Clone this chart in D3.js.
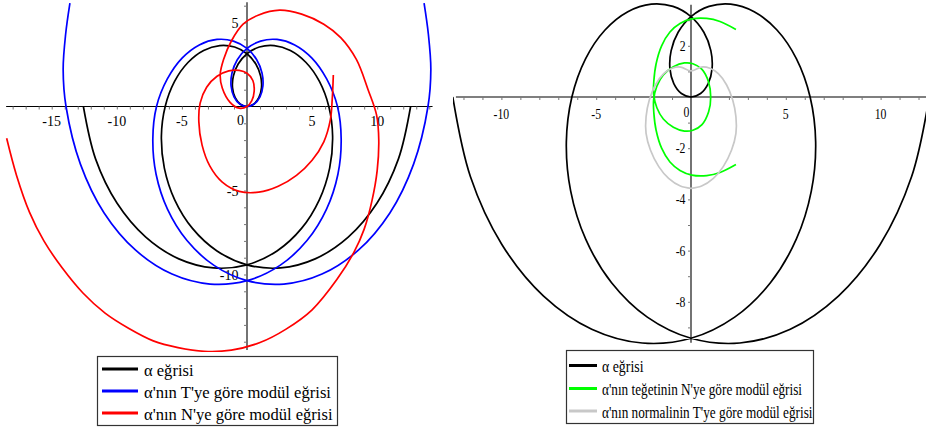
<!DOCTYPE html>
<html>
<head>
<meta charset="utf-8">
<script src="https://cdn.jsdelivr.net/npm/d3@7"></script>
<style>
	body { margin: 0; background: #fff; }
	svg { display: block; }
	svg text { font-family: "Liberation Serif", "DejaVu Serif", serif; }
</style>
</head>
<body>
<div id="wrapper"></div>
<script>

// alpha curve (same in both panels)
const alphaPts = [
	[-12.566,0],[-11.632,-3.117],[-9.976,-5.76],[-7.775,-7.775],[-5.236,-9.069],[-2.575,-9.609],
	[0,-9.425],[2.304,-8.598],[4.189,-7.255],[5.554,-5.554],[6.348,-3.665],[6.575,-1.762],
	[6.283,0],[5.563,1.491],[4.534,2.618],[3.332,3.332],[2.094,3.628],[0.949,3.54],
	[0,3.142],[-0.678,2.529],[-1.047,1.814],[-1.111,1.111],[-0.907,0.524],[-0.506,0.136],
	[0,0],
	[0.506,0.136],[0.907,0.524],[1.111,1.111],[1.047,1.814],[0.678,2.529],[0,3.142],
	[-0.949,3.54],[-2.094,3.628],[-3.332,3.332],[-4.534,2.618],[-5.563,1.491],[-6.283,0],
	[-6.575,-1.762],[-6.348,-3.665],[-5.554,-5.554],[-4.189,-7.255],[-2.304,-8.598],[0,-9.425],
	[2.575,-9.609],[5.236,-9.069],[7.775,-7.775],[9.976,-5.76],[11.632,-3.117],[12.566,0]
];

// module curve w.r.t. T (blue)
const bluePts = [
	[-13.6,6.15],[-13.93,4.3],[-14.12,2.2],[-13.9,0],[-12.795,-3.429],[-10.974,-6.336],[-8.553,-8.553],
	[-5.76,-9.976],[-2.833,-10.57],[0,-10.367],[2.534,-9.458],[4.608,-7.981],[6.109,-6.109],
	[6.983,-4.032],[7.233,-1.938],[6.95,0],[6.119,1.64],[4.987,2.88],[3.665,3.665],[2.303,3.991],
	[1.044,3.894],[0,3.456],[-0.746,2.782],[-1.152,1.995],[-1.222,1.222],[-0.998,0.576],[-0.557,0.15],
	[0,0],
	[0.557,0.15],[0.998,0.576],[1.222,1.222],[1.152,1.995],[0.746,2.782],[0,3.456],[-1.044,3.894],
	[-2.303,3.991],[-3.665,3.665],[-4.987,2.88],[-6.119,1.64],[-6.95,0],[-7.233,-1.938],[-6.983,-4.032],
	[-6.109,-6.109],[-4.608,-7.981],[-2.534,-9.458],[0,-10.367],[2.833,-10.57],[5.76,-9.976],
	[8.553,-8.553],[10.974,-6.336],[12.795,-3.429],[13.9,0],[14.12,2.2],[13.93,4.3],[13.6,6.15]
];

// module curve w.r.t. N (red)
const redPts = [
	[-18.46,-1.89],[-17.7,-4.1],[-16.7,-6.3],[-15.6,-8.0],[-14.2,-9.6],[-12.6,-11.1],[-10.9,-12.3],
	[-9.1,-13.2],[-7.2,-13.95],[-5.3,-14.35],[-3.3,-14.57],[-1.2,-14.5],[1.0,-14.05],[3.0,-13.25],
	[5.0,-12.1],[6.9,-10.3],[8.2,-8.7],[9.0,-7.3],[9.6,-5.6],[10.0,-3.8],[10.12,-2.0],[9.95,-0.5],
	[9.3,1.0],[8.4,2.8],[7.2,4.1],[5.9,4.9],[4.2,5.5],[2.5,5.74],[0.9,5.45],[-0.3,4.9],[-1.2,3.9],
	[-1.8,2.8],[-2.06,1.9],[-1.9,1.1],[-1.3,0.25],[-0.6,-0.1],[0,0],[0.37,0.35],[0.55,0.9],
	[0.45,1.55],[0,1.98],[-0.6,2.15],[-1.4,2.12],[-2.3,1.8],[-3.1,1.15],[-3.6,0.2],[-3.7,-0.9],
	[-3.45,-2.3],[-2.85,-3.55],[-1.9,-4.5],[-0.6,-5.05],[0.9,-5.1],[2.4,-4.75],[3.8,-4.1],
	[5.0,-3.2],[5.9,-2.1],[6.4,-0.8],[6.55,0.5],[6.63,1.88]
];

// tangent module curve w.r.t. N (green)
const greenPts = [
	[2.37,2.64],[1.53,2.95],[0.83,3.07],[0.04,3.05],[-0.58,2.87],[-1.11,2.54],[-1.55,2.0],
	[-1.84,1.3],[-1.96,0.62],[-1.97,0.1],[-1.8,-0.42],[-1.46,-0.86],[-0.93,-1.18],[-0.35,-1.33],
	[0.1,-1.3],[0.58,-1.08],[0.93,-0.58],[1.04,0],[0.93,0.58],[0.58,1.08],[0.1,1.3],[-0.35,1.33],
	[-0.93,1.18],[-1.46,0.86],[-1.8,0.42],[-1.97,-0.1],[-1.96,-0.62],[-1.84,-1.3],[-1.55,-2.0],
	[-1.11,-2.54],[-0.58,-2.87],[0.04,-3.05],[0.83,-3.07],[1.53,-2.95],[2.37,-2.64]
];

// normal module curve w.r.t. T (gray)
const grayPts = [
	[0,-3.57],[-0.56,-3.48],[-1.18,-3.18],[-1.7,-2.72],[-2.14,-2.07],[-2.37,-1.42],[-2.37,-0.77],
	[-2.2,-0.12],[-1.88,0.47],[-1.44,0.91],[-1.0,1.12],[-0.55,1.17],[0,1.02],[0.55,1.17],[1.0,1.12],
	[1.44,0.91],[1.88,0.47],[2.2,-0.12],[2.37,-0.77],[2.37,-1.42],[2.14,-2.07],[1.7,-2.72],
	[1.18,-3.18],[0.56,-3.48],[0,-3.57]
];

const xTicksLeft = [-15, -10, -5, 0, 5, 10];
const yTicksLeft = [5, -5, -10];
const xTicksRight = [-10, -5, 0, 5, 10];
const yTicksRight = [2, -2, -4, -6, -8];

const legendLeft = ["α eğrisi", "α'nın T'ye göre modül eğrisi", "α'nın N'ye göre modül eğrisi"];
const legendRight = ["α eğrisi", "α'nın teğetinin N'ye göre modül eğrisi", "α'nın normalinin T'ye göre modül eğrisi"];

function drawCharts() {

	const serif = "'Liberation Serif', 'DejaVu Serif', serif";

	const svg = d3.select("#wrapper")
		.append("svg")
		.attr("width", 926)
		.attr("height", 430)
		.attr("font-family", serif);

	const fmt = d => d < 0 ? "-" + Math.abs(d) : String(d);
	const range = (a, b) => d3.range(a, b + 1);

	const panels = [
		{
			id: "left",
			xScale: d3.scaleLinear().domain([-15, 10]).range([51.7, 377.2]),
			yScale: d3.scaleLinear().domain([-10, 5]).range([274.5, 22.5]),
			view: { x: [-18.5, 14.25], y: [-14.5, 6.2] },
			clip: [0, 0, 442, 352],
			curves: [[alphaPts, "#000"], [bluePts, "#0000ff"], [redPts, "#ff0000"]],
			xTicks: xTicksLeft, yTicks: yTicksLeft,
			minorX: range(-18, 14), minorY: range(-14, 6),
			squeeze: 1, xLabelY: 125.5, yLabelX: 238.5, zero: [240.5, 125],
			legend: { box: [97.5, 356.5, 240, 69], lines: [369, 391, 413], x1: 102, x2: 138, tx: 144,
				widths: [49.5, 187, 188.5], size: 16.5, texts: legendLeft,
				colors: ["#000", "#0000ff", "#ff0000"] }
		},
		{
			id: "right",
			xScale: d3.scaleLinear().domain([-10, 10]).range([501.4, 880.6]),
			yScale: d3.scaleLinear().domain([-8, 2]).range([301.8, 45.8]),
			view: { x: [-12.4, 12.4], y: [-9.6, 3.6] },
			clip: [453, 0, 473, 346],
			curves: [[alphaPts, "#000"], [greenPts, "#00ff00"], [grayPts, "#c8c8c8"]],
			xTicks: xTicksRight, yTicks: yTicksRight,
			minorX: range(-12, 12), minorY: range(-9, 3),
			squeeze: 0.84, xLabelY: 118.5, yLabelX: 685.5, zero: [686.5, 116.5],
			legend: { box: [566.5, 350.5, 247, 73], lines: [365.5, 388.5, 411], x1: 569, x2: 597, tx: 602,
				widths: [41.5, 200, 210.5], size: 16.5, texts: legendRight,
				colors: ["#000", "#00ff00", "#c8c8c8"] }
		}
	];

	panels.forEach(p => {
		const g = svg.append("g").attr("class", p.id);
		const x = p.xScale, y = p.yScale;

		g.append("clipPath").attr("id", "clip-" + p.id)
			.append("rect")
			.attr("x", p.clip[0]).attr("y", p.clip[1])
			.attr("width", p.clip[2]).attr("height", p.clip[3]);

		// axes lines
		g.append("line")
			.attr("x1", x(p.view.x[0])).attr("x2", x(p.view.x[1]))
			.attr("y1", y(0)).attr("y2", y(0))
			.attr("stroke", "#000").attr("stroke-width", 1.1);
		g.append("line")
			.attr("x1", x(0)).attr("x2", x(0))
			.attr("y1", y(p.view.y[0])).attr("y2", y(p.view.y[1]))
			.attr("stroke", "#000").attr("stroke-width", 1.1);

		// tick marks
		const xAxisGen = d3.axisBottom(x).tickValues(p.minorX.filter(v => v !== 0))
			.tickSize(3).tickFormat("");
		const yAxisGen = d3.axisLeft(y).tickValues(p.minorY.filter(v => v !== 0))
			.tickSize(3).tickFormat("");

		g.append("g").attr("transform", `translate(0,${y(0)})`).call(xAxisGen)
			.call(a => a.select(".domain").remove())
			.selectAll("line").attr("stroke", "#777");
		g.append("g").attr("transform", `translate(${x(0)},0)`).call(yAxisGen)
			.call(a => a.select(".domain").remove())
			.selectAll("line").attr("stroke", "#777");

		// tick labels
		const labels = g.append("g").attr("font-size", 14).attr("fill", "#000")
			.attr("font-family", serif);

		labels.selectAll(".xl")
			.data(p.xTicks.filter(v => v !== 0))
			.join("text")
			.attr("class", "xl")
			.attr("text-anchor", "middle")
			.attr("transform", d => `translate(${x(d)},${p.xLabelY}) scale(${p.squeeze},1)`)
			.text(fmt);

		labels.selectAll(".yl")
			.data(p.yTicks)
			.join("text")
			.attr("class", "yl")
			.attr("text-anchor", "end")
			.attr("transform", d => `translate(${p.yLabelX},${y(d) + 5}) scale(${p.squeeze},1)`)
			.text(fmt);

		labels.append("text")
			.attr("text-anchor", "middle")
			.attr("transform", `translate(${p.zero[0]},${p.zero[1]}) scale(${p.squeeze},1)`)
			.text("0");

		// curves
		const lineGen = d3.line()
			.x(d => x(d[0]))
			.y(d => y(d[1]))
			.curve(d3.curveCatmullRom.alpha(0.5));

		const curveGroup = g.append("g").attr("clip-path", `url(#clip-${p.id})`);
		p.curves.forEach(([pts, color]) => {
			curveGroup.append("path")
				.attr("d", lineGen(pts))
				.attr("fill", "none")
				.attr("stroke", color)
				.attr("stroke-width", 1.7)
				.attr("stroke-linejoin", "round");
		});

		// legend
		const L = p.legend;
		const lg = g.append("g").attr("font-family", serif);
		lg.append("rect")
			.attr("x", L.box[0]).attr("y", L.box[1])
			.attr("width", L.box[2]).attr("height", L.box[3])
			.attr("fill", "#fff").attr("stroke", "#333").attr("stroke-width", 1.2);

		L.texts.forEach((t, i) => {
			lg.append("line")
				.attr("x1", L.x1).attr("x2", L.x2)
				.attr("y1", L.lines[i]).attr("y2", L.lines[i])
				.attr("stroke", L.colors[i]).attr("stroke-width", 3);
			lg.append("text")
				.attr("x", L.tx).attr("y", L.lines[i] + 6.5)
				.attr("font-size", L.size)
				.attr("textLength", L.widths[i])
				.attr("lengthAdjust", "spacingAndGlyphs")
				.text(t);
		});
	});
}

drawCharts();
</script>
</body>
</html>
